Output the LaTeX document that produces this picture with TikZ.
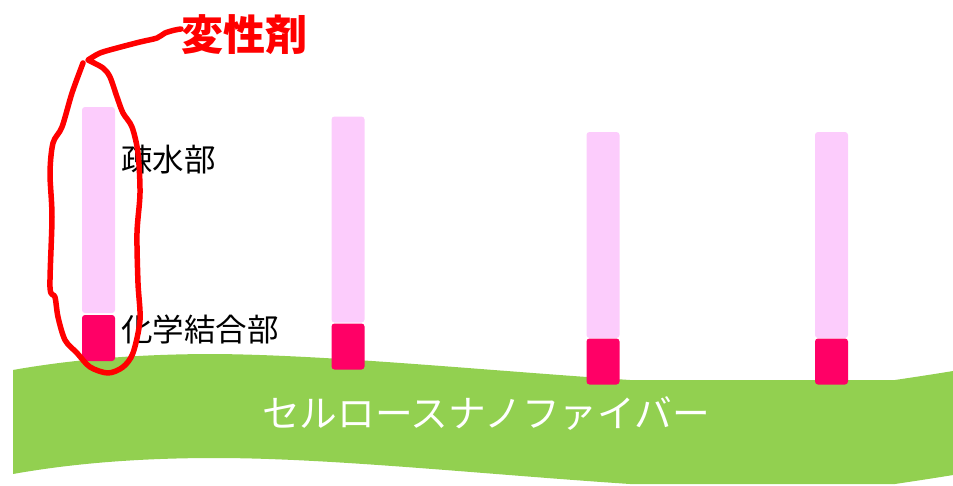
\documentclass[tikz,border=0pt]{standalone}
\usepackage{fontspec}
\newfontfamily\jp{Noto Sans CJK JP}
\definecolor{rodpink}{HTML}{FCCCFC}
\definecolor{rodred}{HTML}{FF0066}
\definecolor{cnfgreen}{HTML}{92D050}
\definecolor{markred}{HTML}{FF0000}
\begin{document}
\begin{tikzpicture}[x=1pt,y=-1pt,
  tail/.style={fill=rodpink,draw=none,rounded corners=3pt,inner sep=0pt,minimum width=33pt},
  head/.style={fill=rodred,draw=none,rounded corners=3pt,inner sep=0pt,minimum width=33pt,minimum height=46pt},
  lbl/.style={font=\jp\fontsize{31.5}{33}\selectfont,anchor=west,inner sep=0pt}]
\useasboundingbox (0,0) rectangle (953,485);
% cellulose nanofiber band
\fill[cnfgreen] (13,370) .. controls (80,358) and (150,354) .. (215,354)
  .. controls (330,355) and (480,370) .. (630,380) -- (895,380)
  .. controls (915,377) and (935,374) .. (953,371)
  -- (953,475) .. controls (935,478) and (915,481) .. (895,484)
  -- (630,484) .. controls (480,474) and (330,458) .. (215,458)
  .. controls (150,458) and (80,462) .. (13,474) -- cycle;
\node[text=white,font=\jp\fontsize{37.7}{40}\selectfont,inner sep=0pt] (cnf) at (486,414) {セルロースナノファイバー};
% rods
\node[tail,minimum height=206pt] (t1) at (98.5,210) {};
\node[head] (h1) at (98.5,338) {};
\node[tail,minimum height=206pt] (t2) at (348,219.5) {};
\node[head] (h2) at (348,346.5) {};
\node[tail,minimum height=206pt] (t3) at (603,235) {};
\node[head] (h3) at (603,361.5) {};
\node[tail,minimum height=206pt] (t4) at (831.5,235) {};
\node[head] (h4) at (831.5,361.5) {};
% labels
\node[lbl] (l1) at (121,160) {疎水部};
\node[lbl] (l2) at (121,329) {化学結合部};
\node[text=markred,font=\jp\bfseries\fontsize{42}{44}\selectfont,anchor=west,inner sep=0pt] (mod) at (181,35) {変性剤};
% freehand loop and leader
\draw[markred,line width=5.5pt,line join=round,line cap=round]
  plot[smooth,tension=0.5] coordinates {(83,63) (72,93) (62,127) (53,143) (50,173) (52,217) (50,287) (55,297) (58,317) (65,340) (77,353) (90,367) (108,373) (123,367) (133,353) (140,320) (138,283) (137,233) (140,193) (138,153) (132,127) (123,113) (117,97) (110,77) (103,68) (88,60)}
  -- plot[smooth,tension=0.5] coordinates {(88,60) (100,53) (117,48) (140,42) (157,38) (165,33) (175,30) (181,29)};
\end{tikzpicture}
\end{document}
